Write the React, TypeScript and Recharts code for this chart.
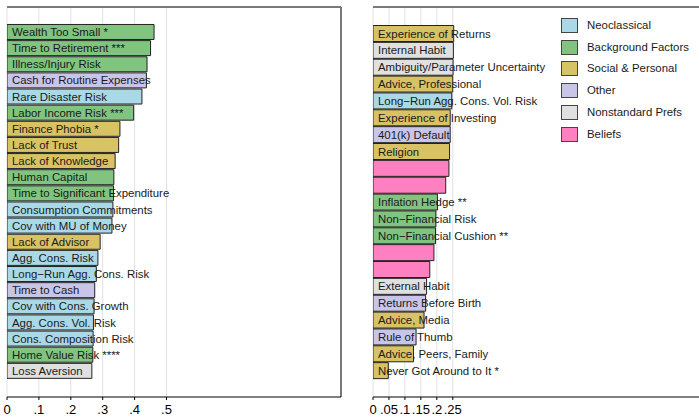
import { Bar, BarChart, XAxis, YAxis, CartesianGrid, Cell, LabelList, ReferenceLine } from "recharts"

const groupColors: Record<string, string> = {
  neo: "#a9d8e6",
  bg: "#80c480",
  soc: "#d9c263",
  other: "#c9c5e9",
  nonstd: "#e0e0e0",
  beliefs: "#ff80c0",
}

const legendItems = [
  { key: "neo", name: "Neoclassical" },
  { key: "bg", name: "Background Factors" },
  { key: "soc", name: "Social & Personal" },
  { key: "other", name: "Other" },
  { key: "nonstd", name: "Nonstandard Prefs" },
  { key: "beliefs", name: "Beliefs" },
]

const leftLabels = [
  "Wealth Too Small *",
  "Time to Retirement ***",
  "Illness/Injury Risk",
  "Cash for Routine Expenses",
  "Rare Disaster Risk",
  "Labor Income Risk ***",
  "Finance Phobia *",
  "Lack of Trust",
  "Lack of Knowledge",
  "Human Capital",
  "Time to Significant Expenditure",
  "Consumption Commitments",
  "Cov with MU of Money",
  "Lack of Advisor",
  "Agg. Cons. Risk",
  "Long\u2212Run Agg. Cons. Risk",
  "Time to Cash",
  "Cov with Cons. Growth",
  "Agg. Cons. Vol. Risk",
  "Cons. Composition Risk",
  "Home Value Risk ****",
  "Loss Aversion",
]
const leftValues = [
  0.461, 0.45, 0.439, 0.437, 0.423, 0.397, 0.354, 0.35, 0.339, 0.335, 0.334,
  0.332, 0.329, 0.292, 0.285, 0.28, 0.275, 0.273, 0.271, 0.27, 0.269, 0.266,
]
const leftGroups = [
  "bg", "bg", "bg", "other", "neo", "bg", "soc", "soc", "soc", "bg", "bg",
  "neo", "neo", "soc", "neo", "neo", "other", "neo", "neo", "neo", "bg", "nonstd",
]

const rightLabels = [
  "Experience of Returns",
  "Internal Habit",
  "Ambiguity/Parameter Uncertainty",
  "Advice, Professional",
  "Long\u2212Run Agg. Cons. Vol. Risk",
  "Experience of Investing",
  "401(k) Default",
  "Religion",
  "",
  "",
  "Inflation Hedge **",
  "Non\u2212Financial Risk",
  "Non\u2212Financial Cushion **",
  "",
  "",
  "External Habit",
  "Returns Before Birth",
  "Advice, Media",
  "Rule of Thumb",
  "Advice, Peers, Family",
  "Never Got Around to It *",
]
const rightValues = [
  0.253, 0.252, 0.251, 0.25, 0.247, 0.242, 0.242, 0.24, 0.238, 0.228, 0.202,
  0.197, 0.196, 0.191, 0.178, 0.168, 0.165, 0.16, 0.135, 0.127, 0.048,
]
const rightGroups = [
  "soc", "nonstd", "nonstd", "soc", "neo", "soc", "other", "soc", "beliefs", "beliefs", "bg",
  "bg", "bg", "beliefs", "beliefs", "nonstd", "other", "soc", "other", "soc", "soc",
]

const leftTicks = [0, 0.1, 0.2, 0.3, 0.4, 0.5]
const rightTicks = [0, 0.05, 0.1, 0.15, 0.2, 0.25]
const XMAX = 1.047
const FONT = "Liberation Sans, Arial, sans-serif"

const fmt = (v: number) => (v === 0 ? "0" : String(v).replace(/^0/, ""))

const build = (labels: string[], values: number[], groups: string[]) =>
  labels.map((label, i) => ({ id: String(i), label, value: values[i], group: groups[i] }))

const leftData = build(leftLabels, leftValues, leftGroups)
const rightData = build(rightLabels, rightValues, rightGroups)

const renderLabel = (props: any) => {
  const { x, y, height, value } = props
  if (!value) return null
  return (
    <text
      x={Number(x) + 5}
      y={Number(y) + Number(height) / 2}
      dy="0.36em"
      fontSize={11.4}
      fill="#1a1a1a"
      fontFamily={FONT}
    >
      {value}
    </text>
  )
}

function Panel({
  data,
  ticks,
  width,
  padTop,
  padBottom,
  rightBorder,
}: {
  data: any[]
  ticks: number[]
  width: number
  padTop: number
  padBottom: number
  rightBorder: boolean
}) {
  return (
    <BarChart
      width={width}
      height={417}
      data={data}
      layout="vertical"
      margin={{ top: 7, right: width - 7 - 334, bottom: 0, left: 7 }}
      barCategoryGap="3%"
    >
      <CartesianGrid horizontal={false} stroke="#e2e2e2" />
      <XAxis
        type="number"
        domain={[0, XMAX]}
        ticks={ticks}
        interval={0}
        allowDataOverflow
        tickFormatter={fmt}
        height={20}
        tickSize={3}
        tickMargin={5}
        stroke="#000"
        tick={{ fontSize: 13, fill: "#000", fontFamily: FONT }}
      />
      <YAxis
        type="category"
        dataKey="id"
        width={0}
        tick={false}
        tickLine={false}
        axisLine={{ stroke: "#000" }}
        padding={{ top: padTop, bottom: padBottom }}
      />
      {rightBorder && <ReferenceLine x={XMAX} stroke="#000" />}
      <Bar dataKey="value" isAnimationActive={false} stroke="#222" strokeWidth={1}>
        {data.map((d) => (
          <Cell key={d.id} fill={groupColors[d.group]} />
        ))}
        <LabelList dataKey="label" content={renderLabel} />
      </Bar>
    </BarChart>
  )
}

export default function App() {
  return (
    <div
      style={{
        position: "absolute",
        left: 0,
        top: 0,
        width: 699,
        height: 417,
        overflow: "hidden",
        background: "#fff",
        fontFamily: FONT,
      }}
    >
      <div style={{ position: "absolute", left: 0, top: 0 }}>
        <Panel data={leftData} ticks={leftTicks} width={360} padTop={17} padBottom={18} rightBorder />
      </div>
      <div style={{ position: "absolute", left: 366, top: 0 }}>
        <Panel data={rightData} ticks={rightTicks} width={345} padTop={18} padBottom={18} rightBorder={false} />
      </div>
      <div style={{ position: "absolute", left: 7, top: 6, width: 334, height: 2, background: "#7a7a7a", zIndex: 5 }} />
      <div style={{ position: "absolute", left: 373, top: 6, width: 340, height: 2, background: "#7a7a7a", zIndex: 5 }} />
      {legendItems.map((item, i) => (
        <div key={item.key}>
          <div
            style={{
              position: "absolute",
              left: 561,
              top: 18 + i * 21.7,
              width: 15,
              height: 13,
              background: groupColors[item.key],
              border: "1px solid #444",
            }}
          />
          <div
            style={{
              position: "absolute",
              left: 587,
              top: 18 + i * 21.7,
              height: 15,
              lineHeight: "15px",
              fontSize: 11.4,
              color: "#1a1a1a",
              whiteSpace: "nowrap",
            }}
          >
            {item.name}
          </div>
        </div>
      ))}
    </div>
  )
}
